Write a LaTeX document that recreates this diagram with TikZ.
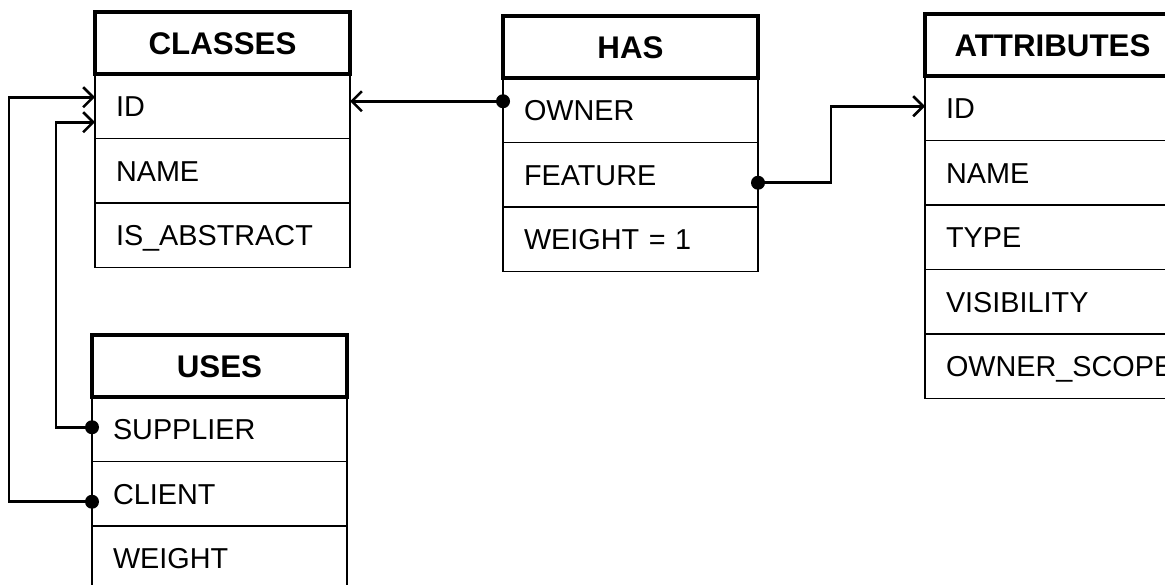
\documentclass[tikz,border=0pt]{standalone}
\usepackage{fontspec}
\setmainfont{Liberation Sans}
\usetikzlibrary{arrows.meta}

\begin{document}
\begin{tikzpicture}[x=1pt,y=-1pt,
  cell/.style={draw, line width=1.4pt, anchor=north west, outer sep=0pt,
    minimum height=64.5pt, text width=213pt, inner xsep=21pt, inner ysep=0pt,
    align=left, font=\fontsize{28.8}{34}\selectfont,
    text height=20.6pt, text depth=0pt},
  headcell/.style={draw, line width=3.4pt, fill=white, anchor=north west, outer sep=0pt,
    minimum width=255pt, minimum height=62pt, inner sep=0pt,
    font=\fontsize{31.3}{36}\selectfont\bfseries,
    text height=22.4pt, text depth=0pt},
  fk/.style={line width=2.8pt, -{Straight Barb[length=10pt, width=20pt, line width=2.6pt]}},
  dotend/.style={fill=black}
]
\useasboundingbox (0,0) rectangle (1165,585);

% CLASSES table
\node[headcell] (cls) at (95,12) {CLASSES};
\node[cell] (cls-id)   at (cls.south west)      {ID};
\node[cell] (cls-name) at (cls-id.south west)   {NAME};
\node[cell] (cls-abs)  at (cls-name.south west) {IS\_ABSTRACT};

% HAS table
\node[headcell] (has) at (503,16) {HAS};
\node[cell] (has-owner)   at (has.south west)         {OWNER};
\node[cell] (has-feature) at (has-owner.south west)   {FEATURE};
\node[cell] (has-weight)  at (has-feature.south west) {WEIGHT = 1};

% ATTRIBUTES table
\node[headcell] (attr) at (925,14) {ATTRIBUTES};
\node[cell] (attr-id)    at (attr.south west)       {ID};
\node[cell] (attr-name)  at (attr-id.south west)    {NAME};
\node[cell] (attr-type)  at (attr-name.south west)  {TYPE};
\node[cell] (attr-vis)   at (attr-type.south west)  {VISIBILITY};
\node[cell] (attr-scope) at (attr-vis.south west)   {OWNER\_SCOPE};

% USES table
\node[headcell] (uses) at (92,335) {USES};
\node[cell] (uses-sup)    at (uses.south west)     {SUPPLIER};
\node[cell] (uses-cli)    at (uses-sup.south west) {CLIENT};
\node[cell] (uses-weight) at (uses-cli.south west) {WEIGHT};

% HAS.OWNER -> CLASSES.ID
\coordinate (o1) at ([yshift=9pt]has-owner.west);
\draw[fk] (o1) -- (o1 -| cls-id.east);
\fill[dotend] (o1) circle (7pt);

% HAS.FEATURE -> ATTRIBUTES.ID
\coordinate (f1) at ([yshift=-8pt]has-feature.east);
\draw[fk] (f1) -- ++(73,0) |- ([yshift=2pt]attr-id.west);
\fill[dotend] (f1) circle (7pt);

% USES.SUPPLIER -> CLASSES.ID
\coordinate (s1) at ([yshift=2pt]uses-sup.west);
\draw[fk] (s1) -- ++(-36,0) |- ([yshift=-16pt]cls-id.west);
\fill[dotend] (s1) circle (7pt);

% USES.CLIENT -> CLASSES.ID
\coordinate (c1) at ([yshift=-8pt]uses-cli.west);
\draw[fk] (c1) -- ++(-83,0) |- ([yshift=9pt]cls-id.west);
\fill[dotend] (c1) circle (7pt);
\end{tikzpicture}
\end{document}
